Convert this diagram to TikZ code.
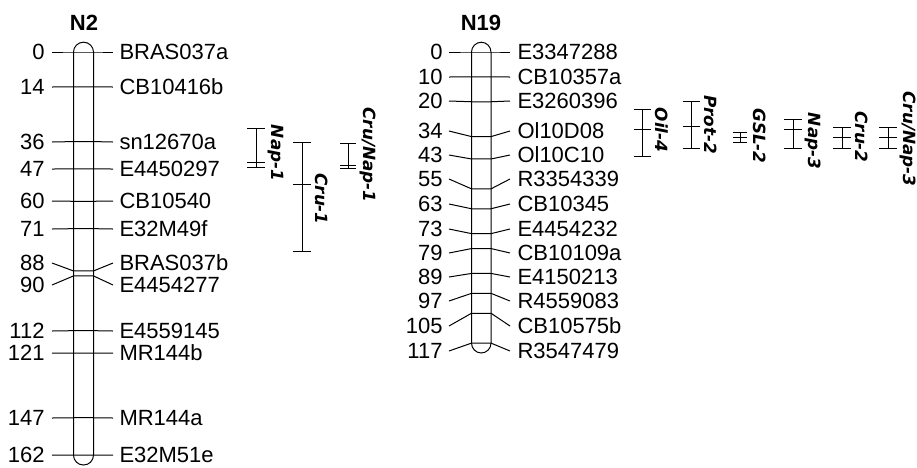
\documentclass[tikz,border=0pt]{standalone}
\usepackage{fontspec}
\setmainfont{Liberation Sans}
\newfontfamily\qtlfont{DejaVu Sans}
\usepackage{tikz}

\begin{document}
\begin{tikzpicture}[x=1pt,y=-1pt,line width=1pt,
  num/.style={font=\fontsize{22}{22}\selectfont,inner sep=0pt,text height=15.7pt,text depth=0pt,anchor=east},
  mk/.style={font=\fontsize{22}{22}\selectfont,inner sep=0pt,text height=15.7pt,text depth=0pt,anchor=west},
  ttl/.style={font=\fontsize{22}{22}\selectfont\bfseries,inner sep=0pt},
  qlab/.style={font=\fontsize{16.8}{16.8}\selectfont\qtlfont\bfseries\itshape,inner sep=0pt,rotate=-90},
  chr/.style={draw,rounded corners=9.9pt}]
\useasboundingbox (0,0) rectangle (917,467);
\node[ttl] (t2) at (84,23) {N2};
\node[ttl] (t19) at (481,23) {N19};
\draw[chr] (73.5,42.2) rectangle (93.5,465);
\draw[chr] (471.5,42.2) rectangle (491,353);
\foreach \cm/\ly/\mk [count=\i] in {0/52/BRAS037a,14/87/CB10416b,36/142/sn12670a,47/169/E4450297,
  60/201/CB10540,71/229/E32M49f,88/263/BRAS037b,90/285/E4454277,112/331/E4559145,
  121/353/MR144b,147/418/MR144a,162/455/E32M51e}{
  \pgfmathsetmacro\yy{52+2.488*\cm}
  \node[num] (a\i) at (45,\ly) {\cm};
  \node[mk] (b\i) at (119,\ly) {\mk};
  \draw ([xshift=7pt]a\i.east) -- (73.5,\yy) -- (93.5,\yy) -- ([xshift=-6pt]b\i.west);
}
\foreach \cm/\ly/\mk [count=\i] in {0/52/E3347288,10/77/CB10357a,20/101/E3260396,34/131/Ol10D08,
  43/155/Ol10C10,55/179/R3354339,63/204/CB10345,73/229/E4454232,79/253/CB10109a,
  89/277/E4150213,97/301/R4559083,105/326/CB10575b,117/351/R3547479}{
  \pgfmathsetmacro\yy{52+2.488*\cm}
  \node[num] (c\i) at (443,\ly) {\cm};
  \node[mk] (d\i) at (517,\ly) {\mk};
  \draw ([xshift=6pt]c\i.east) -- (471.5,\yy) -- (491,\yy) -- ([xshift=-7pt]d\i.west);
}
\foreach \x/\top/\bot/\mid/\w/\lab/\ly [count=\i] in {256/128/167/{162}/9/Nap-1/153,
  302/142/251/{184}/9/Cru-1/199,348/143/168/{165}/8/Cru\slash Nap-1/155,
  642/109/156/{129}/8.5/Oil-4/130,691/101/148/{126}/8.5/Prot-2/125,
  740/132/142/{137}/7/GSL-2/136,793/119/148/{129}/9/Nap-3/141,
  842/127/148/{137}/9/Cru-2/137,888/127/148/{137}/9/Cru\slash Nap-3/139}{
  \draw (\x,\top) -- (\x,\bot);
  \foreach \t in {\top,\bot,\mid} \draw (\x-\w,\t) -- (\x+\w,\t);
  \node[qlab] (q\i) at (\x+20,\ly) {\lab};
}
\end{tikzpicture}
\end{document}
